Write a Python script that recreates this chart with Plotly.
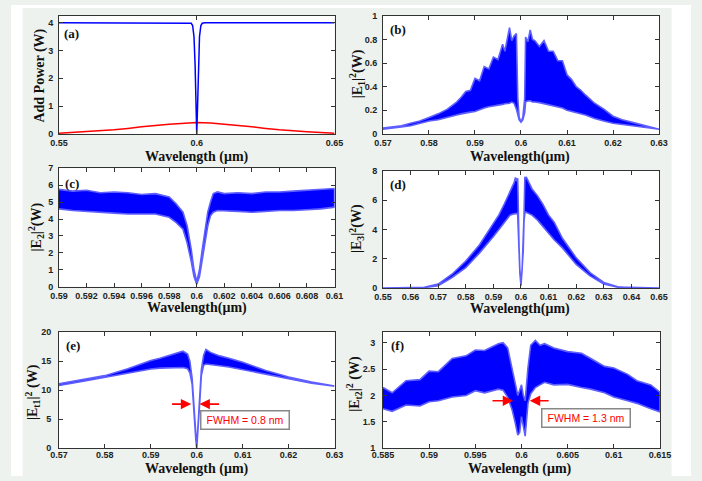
import plotly.graph_objects as go

W, H = 702, 481

# ---------------- data ----------------
# (a) Add power: blue (drop-port) and red curves
a_blue_x = [0.55, 0.597, 0.598, 0.5985, 0.599, 0.5994, 0.5997, 0.6, 0.6003, 0.6006, 0.601, 0.6015, 0.602, 0.603, 0.65]
a_blue_y = [4.0, 4.0, 3.98, 3.9, 3.5, 2.5, 1.0, 0.0, 1.0, 2.5, 3.5, 3.9, 3.98, 4.0, 4.0]
a_red_x = [0.55, 0.56, 0.57, 0.575, 0.58, 0.59, 0.595, 0.6, 0.605, 0.61, 0.62, 0.625, 0.63, 0.64, 0.65]
a_red_y = [0.03, 0.08, 0.15, 0.20, 0.26, 0.35, 0.39, 0.41, 0.39, 0.35, 0.26, 0.20, 0.15, 0.08, 0.03]

# (b) |E1|^2 band (upper / lower envelope)
b_x = [0.570, 0.572, 0.574, 0.576, 0.578, 0.580, 0.582, 0.584, 0.586, 0.587, 0.588, 0.589, 0.590, 0.591,
       0.592, 0.593, 0.594, 0.595, 0.596, 0.5965, 0.597, 0.5975, 0.598, 0.5985, 0.599, 0.5993, 0.5996,
       0.600, 0.6004, 0.6008, 0.601, 0.6015, 0.602, 0.6025, 0.603, 0.604, 0.605, 0.606, 0.607, 0.608,
       0.609, 0.610, 0.611, 0.612, 0.613, 0.614, 0.616, 0.618, 0.620, 0.622, 0.624, 0.626, 0.628, 0.630]
b_up = [0.05, 0.06, 0.07, 0.09, 0.11, 0.14, 0.17, 0.21, 0.27, 0.31, 0.36, 0.37, 0.47, 0.45,
        0.57, 0.55, 0.65, 0.63, 0.76, 0.70, 0.81, 0.90, 0.79, 0.83, 0.85, 0.30, 0.14,
        0.10, 0.14, 0.30, 0.82, 0.78, 0.88, 0.80, 0.79, 0.74, 0.79, 0.70, 0.70, 0.62,
        0.62, 0.50, 0.46, 0.40, 0.37, 0.33, 0.26, 0.21, 0.15, 0.12, 0.10, 0.08, 0.06, 0.045]
b_lo = [0.04, 0.05, 0.06, 0.07, 0.09, 0.11, 0.12, 0.14, 0.16, 0.17, 0.18, 0.185, 0.19, 0.205,
        0.22, 0.23, 0.24, 0.245, 0.25, 0.255, 0.26, 0.26, 0.27, 0.26, 0.21, 0.17, 0.12,
        0.10, 0.12, 0.18, 0.27, 0.28, 0.28, 0.27, 0.27, 0.265, 0.26, 0.25, 0.24, 0.23,
        0.22, 0.20, 0.19, 0.18, 0.17, 0.16, 0.13, 0.11, 0.09, 0.08, 0.07, 0.06, 0.05, 0.04]

# (c) |E2|^2 band
c_x = [0.590, 0.591, 0.592, 0.593, 0.594, 0.595, 0.596, 0.597, 0.598, 0.5985, 0.599, 0.5993, 0.5996,
       0.5998, 0.600, 0.6002, 0.6004, 0.6006, 0.6008, 0.601, 0.6012, 0.6015, 0.602, 0.603, 0.604,
       0.605, 0.606, 0.607, 0.608, 0.609, 0.610]
c_up = [5.75, 5.65, 5.70, 5.55, 5.60, 5.55, 5.45, 5.50, 5.30, 4.90, 4.40, 3.60, 2.20,
        1.00, 0.30, 1.00, 2.20, 3.40, 4.40, 5.00, 5.50, 5.60, 5.50, 5.55, 5.50,
        5.60, 5.60, 5.65, 5.70, 5.75, 5.80]
c_lo = [4.60, 4.50, 4.45, 4.40, 4.35, 4.30, 4.30, 4.30, 4.10, 3.80, 3.40, 2.60, 1.50,
        0.60, 0.15, 0.60, 1.60, 2.60, 3.60, 4.20, 4.40, 4.50, 4.50, 4.45, 4.40,
        4.45, 4.50, 4.50, 4.55, 4.60, 4.70]

# (d) |E3|^2 band
d_x = [0.55, 0.56, 0.565, 0.57, 0.575, 0.58, 0.585, 0.59, 0.592, 0.594, 0.596, 0.597, 0.5975, 0.598,
       0.5985, 0.5988, 0.599, 0.5993, 0.5996, 0.600, 0.6004, 0.6008, 0.6011, 0.6014, 0.6017, 0.602,
       0.603, 0.604, 0.606, 0.608, 0.61, 0.612, 0.615, 0.62, 0.625, 0.63, 0.635, 0.64, 0.65]
d_up = [0.0, 0.01, 0.05, 0.27, 0.94, 1.84, 2.96, 4.42, 5.0, 5.76, 6.55, 7.0, 7.2, 7.55,
        7.3, 7.5, 5.0, 2.8, 1.2, 0.3, 1.2, 2.8, 5.0, 7.6, 7.5, 7.55,
        7.2, 6.77, 6.3, 5.7, 4.98, 4.5, 3.4, 2.06, 1.05, 0.38, 0.09, 0.02, 0.0]
d_lo = [0.0, 0.0, 0.03, 0.15, 0.72, 1.39, 2.4, 3.52, 4.0, 4.53, 4.98, 5.05, 5.1, 5.1,
        5.1, 5.0, 4.6, 2.5, 1.0, 0.15, 1.0, 2.5, 4.6, 5.1, 5.2, 5.2,
        5.1, 4.98, 4.64, 4.2, 3.74, 3.3, 2.74, 1.61, 0.83, 0.27, 0.06, 0.01, 0.0]

# (e) |Et1|^2 band
e_x = [0.57, 0.575, 0.58, 0.585, 0.59, 0.592, 0.594, 0.595, 0.596, 0.597, 0.598, 0.5985, 0.599,
       0.5993, 0.5996, 0.5998, 0.600, 0.6002, 0.6004, 0.6007, 0.601, 0.6015, 0.602, 0.603, 0.605,
       0.607, 0.61, 0.615, 0.62, 0.625, 0.63]
e_up = [11.1, 11.8, 12.5, 13.7, 15.1, 15.5, 16.0, 16.2, 16.4, 16.7, 16.2, 15.0, 12.0,
        9.0, 5.0, 2.5, 0.2, 2.5, 5.0, 9.5, 13.5, 16.0, 17.0, 16.5, 15.9,
        15.5, 14.8, 13.4, 12.25, 11.4, 10.8]
e_lo = [10.8, 11.5, 12.2, 12.9, 13.65, 13.8, 13.9, 13.9, 13.9, 13.9, 13.7, 13.0, 11.0,
        8.0, 4.0, 1.5, 0.0, 1.5, 4.0, 8.5, 12.5, 14.3, 14.5, 14.4, 14.2,
        14.0, 13.65, 12.8, 12.0, 11.2, 10.7]

# (f) |Et2|^2 band
f_x = [0.585, 0.586, 0.5875, 0.589, 0.59, 0.591, 0.5925, 0.594, 0.595, 0.596, 0.5975, 0.598, 0.5985,
       0.599, 0.5993, 0.5996, 0.5998, 0.600, 0.6002, 0.6004, 0.6007, 0.601, 0.6015, 0.602, 0.6025,
       0.6035, 0.605, 0.6065, 0.6075, 0.609, 0.61, 0.6115, 0.6125, 0.614, 0.615]
f_up = [2.15, 2.05, 2.28, 2.30, 2.46, 2.45, 2.70, 2.75, 2.86, 2.85, 2.98, 3.00, 2.90,
        2.52, 2.25, 2.00, 2.10, 2.20, 2.00, 1.90, 2.52, 2.95, 3.04, 2.95, 2.98,
        2.90, 2.83, 2.80, 2.70, 2.55, 2.52, 2.40, 2.28, 2.20, 2.06]
f_lo = [1.75, 1.70, 1.82, 1.80, 1.88, 1.90, 1.97, 2.00, 2.09, 2.05, 2.12, 2.10, 1.97,
        1.72, 1.50, 1.25, 1.30, 1.60, 1.40, 1.23, 1.85, 2.03, 2.15, 2.20, 2.25,
        2.20, 2.21, 2.15, 2.12, 2.05, 1.97, 1.90, 1.85, 1.75, 1.69]

# FWHM markers (arrow tail, arrow head) and labels
e_fwhm_y = 7.6
e_arrows = [(0.5943, 0.5988), (0.6052, 0.6006)]
e_fwhm_text = "FWHM = 0.8 nm"
f_fwhm_y = 1.9
f_arrows = [(0.5967, 0.5991), (0.6031, 0.6009)]
f_fwhm_text = "FWHM = 1.3 nm"

# tick values / labels
a_xt = [0.55, 0.6, 0.65]; a_xl = ["0.55", "0.6", "0.65"]
a_yt = [0, 1, 2, 3, 4]
b_xt = [0.57, 0.58, 0.59, 0.60, 0.61, 0.62, 0.63]; b_xl = ["0.57", "0.58", "0.59", "0.6", "0.61", "0.62", "0.63"]
b_yt = [0, 0.2, 0.4, 0.6, 0.8, 1]; b_yl = ["0", "0.2", "0.4", "0.6", "0.8", "1"]
c_xt = [0.590, 0.592, 0.594, 0.596, 0.598, 0.600, 0.602, 0.604, 0.606, 0.608, 0.610]
c_xl = ["0.59", "0.592", "0.594", "0.596", "0.598", "0.6", "0.602", "0.604", "0.606", "0.608", "0.61"]
c_yt = [0, 1, 2, 3, 4, 5, 6, 7]
d_xt = [0.55, 0.56, 0.57, 0.58, 0.59, 0.60, 0.61, 0.62, 0.63, 0.64, 0.65]
d_xl = ["0.55", "0.56", "0.57", "0.58", "0.59", "0.6", "0.61", "0.62", "0.63", "0.64", "0.65"]
d_yt = [0, 2, 4, 6, 8]
e_xt = b_xt; e_xl = b_xl
e_yt = [0, 5, 10, 15, 20]
f_xt = [0.585, 0.59, 0.595, 0.6, 0.605, 0.61, 0.615]
f_xl = ["0.585", "0.59", "0.595", "0.6", "0.605", "0.61", "0.615"]
f_yt = [1, 1.5, 2, 2.5, 3]; f_yl = ["1", "1.5", "2", "2.5", "3"]

# ---------------- styling helpers ----------------
BLUE = "rgb(0,0,255)"
RED = "rgb(255,0,0)"
BG = "#eef2ee"
SERIF = "Liberation Serif, Times New Roman, serif"
SANS = "Liberation Sans, Arial, sans-serif"


def px(x):
    return x / W


def py(y):
    return 1 - y / H


# subplot boxes in pixels: (x0, x1, ytop, ybottom)
boxes = {
    1: (49.5, 334, 11, 131.7),
    2: (384, 669, 11, 131.7),
    3: (49.5, 334, 166.7, 287.7),
    4: (384, 669, 169.5, 289),
    5: (49.5, 334, 334, 452.7),
    6: (384, 670, 334, 452.7),
}
# tick label standoffs per subplot (bottom row sits closer to the page edge)
x_standoff = {1: 0, 2: 0, 3: 0, 4: 0, 5: -2, 6: -2}
y_standoff = {1: 3, 2: 3, 3: 3, 4: 3, 5: 5, 6: 5}

fig = go.Figure()


def band(x, up, lo, n):
    xs = list(x) + list(x)[::-1]
    ys = list(up) + list(lo)[::-1]
    fig.add_trace(go.Scatter(x=xs, y=ys, mode="lines", fill="toself",
                             fillcolor=BLUE, line=dict(color="rgb(95,95,255)", width=1.6),
                             xaxis=f"x{n}", yaxis=f"y{n}", showlegend=False,
                             hoverinfo="skip"))


fig.add_trace(go.Scatter(x=a_red_x, y=a_red_y, mode="lines", line=dict(color=RED, width=1.5),
                         xaxis="x1", yaxis="y1", showlegend=False))
fig.add_trace(go.Scatter(x=a_blue_x, y=a_blue_y, mode="lines", line=dict(color=BLUE, width=1.5),
                         xaxis="x1", yaxis="y1", showlegend=False))
band(b_x, b_up, b_lo, 2)
band(c_x, c_up, c_lo, 3)
band(d_x, d_up, d_lo, 4)
band(e_x, e_up, e_lo, 5)
band(f_x, f_up, f_lo, 6)

axes_cfg = {
    1: dict(xr=[0.55, 0.65], yr=[0, 4.25], xt=a_xt, xl=a_xl, yt=a_yt, yl=[str(v) for v in a_yt]),
    2: dict(xr=[0.57, 0.63], yr=[0, 1], xt=b_xt, xl=b_xl, yt=b_yt, yl=b_yl),
    3: dict(xr=[0.59, 0.61], yr=[0, 7], xt=c_xt, xl=c_xl, yt=c_yt, yl=[str(v) for v in c_yt]),
    4: dict(xr=[0.55, 0.65], yr=[0, 8], xt=d_xt, xl=d_xl, yt=d_yt, yl=[str(v) for v in d_yt]),
    5: dict(xr=[0.57, 0.63], yr=[0, 20], xt=e_xt, xl=e_xl, yt=e_yt, yl=[str(v) for v in e_yt]),
    6: dict(xr=[0.585, 0.615], yr=[1, 3.2], xt=f_xt, xl=f_xl, yt=f_yt, yl=f_yl),
}

tickfont = dict(family=SANS, size=9, color="#222222", weight="bold")
common = dict(showgrid=False, zeroline=False, showline=True, linecolor="#333333", linewidth=1,
              mirror="allticks", ticks="inside", ticklen=4, tickcolor="#333333", tickwidth=1,
              tickfont=tickfont, fixedrange=True)

layout = {}
for n, cfg in axes_cfg.items():
    x0, x1, yt, yb = boxes[n]
    layout[f"xaxis{n}"] = dict(domain=[px(x0), px(x1)], anchor=f"y{n}", range=cfg["xr"],
                              tickmode="array", tickvals=cfg["xt"], ticktext=cfg["xl"],
                              ticklabelstandoff=x_standoff[n], **common)
    layout[f"yaxis{n}"] = dict(domain=[py(yb), py(yt)], anchor=f"x{n}", range=cfg["yr"],
                              tickmode="array", tickvals=cfg["yt"], ticktext=cfg["yl"],
                              ticklabelstandoff=y_standoff[n], **common)

fig.update_layout(**layout)

ann = []
titlefont = dict(family=SERIF, size=14, color="#111111", weight="bold")
# x titles
xtitles = [
    (192, 155, "Wavelength (μm)"), (525, 155, "Wavelength(μm)"),
    (192, 309, "Wavelength(μm)"), (525, 310, "Wavelength(μm)"),
    (192, 473.5, "Wavelength (μm)"), (525, 473.5, "Wavelength (μm)"),
]
for x, y, t in xtitles:
    ann.append(dict(x=px(x), y=py(y), xref="paper", yref="paper", text=t, showarrow=False,
                    xanchor="center", yanchor="middle", font=titlefont))
# y titles
ytitles = [
    (29, 72, "Add Power (W)"),
    (357, 70, "|E<sub>1</sub>|<sup>2</sup>(W)"),
    (26, 227, "|E<sub>2</sub>|<sup>2</sup>(W)"),
    (357, 228, "|E<sub>3</sub>|<sup>2</sup>(W)"),
    (22, 395, "|E<sub>t1</sub>|<sup>2</sup> (W)"),
    (354, 387, "|E<sub>t2</sub>|<sup>2</sup> (W)"),
]
for x, y, t in ytitles:
    ann.append(dict(x=px(x), y=py(y), xref="paper", yref="paper", text=t, showarrow=False,
                    textangle=-90, xanchor="center", yanchor="middle", font=titlefont))
# panel labels
plabels = [(53, 29, "(a)"), (389, 25, "(b)"), (54, 182, "(c)"), (389, 183, "(d)"),
           (55, 348, "(e)"), (390, 348, "(f)")]
for x, y, t in plabels:
    ann.append(dict(x=px(x), y=py(y), xref="paper", yref="paper", text=t, showarrow=False,
                    xanchor="left", yanchor="middle",
                    font=dict(family=SERIF, size=13, color="#111111", weight="bold")))

# FWHM arrows and boxes
for n, yv, arrows in [(5, e_fwhm_y, e_arrows), (6, f_fwhm_y, f_arrows)]:
    for tail, head in arrows:
        ann.append(dict(x=head, y=yv, ax=tail, ay=yv, xref=f"x{n}", yref=f"y{n}",
                        axref=f"x{n}", ayref=f"y{n}", text="", showarrow=True,
                        arrowhead=2, arrowsize=1.3, arrowwidth=1.6, arrowcolor=RED))
ann.append(dict(x=0.6104, y=4.86, xref="x5", yref="y5", text=e_fwhm_text, showarrow=False,
                width=87, height=17, bgcolor="white", bordercolor="#888888", borderwidth=1.5,
                borderpad=0, font=dict(family=SANS, size=10.5, color=RED)))
ann.append(dict(x=0.6070, y=1.575, xref="x6", yref="y6", text=f_fwhm_text, showarrow=False,
                width=87, height=17, bgcolor="white", bordercolor="#888888", borderwidth=1.5,
                borderpad=0, font=dict(family=SANS, size=10.5, color=RED)))

shapes = [
    dict(type="rect", xref="paper", yref="paper", x0=0, x1=px(12), y0=0, y1=1,
         fillcolor="white", line=dict(width=0), layer="below"),
    dict(type="rect", xref="paper", yref="paper", x0=px(682), x1=1, y0=0, y1=1,
         fillcolor="white", line=dict(width=0), layer="below"),
    dict(type="rect", xref="paper", yref="paper", x0=0, x1=1, y0=py(3), y1=1,
         fillcolor="white", line=dict(width=0), layer="below"),
]

fig.update_layout(width=W, height=H, autosize=False, margin=dict(l=0, r=0, t=0, b=0, pad=0),
                  paper_bgcolor=BG, plot_bgcolor="white", annotations=ann, shapes=shapes,
                  showlegend=False)

fig.write_html("out.html", config={"displayModeBar": False},
               post_script="document.body.style.margin='0';document.body.style.padding='0';")
